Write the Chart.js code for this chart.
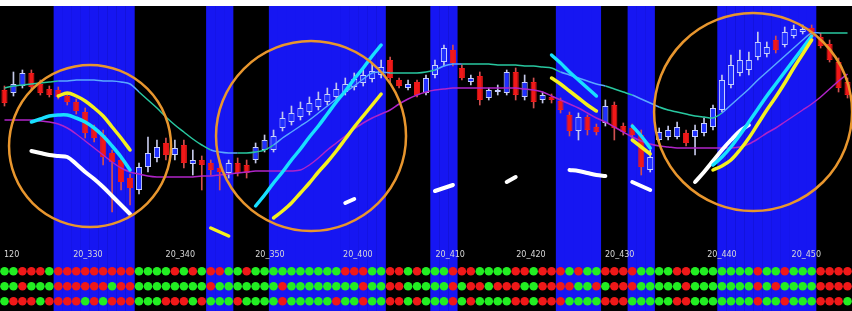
<!DOCTYPE html>
<html>
<head>
<meta charset="utf-8">
<script src="https://cdn.jsdelivr.net/npm/chart.js@4.4.1/dist/chart.umd.min.js"></script>
<style>
  html, body { margin: 0; background: #fff; }
  #wrap { width: 852px; height: 311px; padding-top: 6px; box-sizing: border-box; }
  canvas { display: block; background: #000; }
</style>
</head>
<body>
<div id="wrap"><canvas id="chart" width="852" height="305"></canvas></div>
<script>
// --- Data ---
const N = 95;
const tickPos = [0.8, 9.3, 19.6, 29.6, 39.4, 49.7, 58.7, 68.6, 80.0, 89.4];
const tickText = ["120", "20_330", "20_340", "20_350", "20_400", "20_410", "20_420", "20_430", "20_440", "20_450"];

const openP = [221,218,225,238,227,222,221,215,209,199, 183,176,158,151,133,121,144,153,168,156,
  166,147,151,148,143,138,148,146,151,161, 161,183,189,194,199,204,209,214,219,224,
  228,232,236,251,231,223,229,218,236,249, 261,243,229,235,213,219,218,239,214,229,
  211,214,210,196,180,194,184,188,206,185, 183,176,141,171,174,174,178,174,178,184,
  201,226,238,241,254,257,271,266,275,279, 283,274,267,249,229];
const closeP = [208,227,238,224,218,216,214,209,200,178, 173,154,149,129,123,144,158,164,156,163,
  148,151,146,141,139,148,138,138,164,171, 175,193,198,203,208,212,217,222,227,232,
  236,240,244,233,225,227,216,233,246,263, 248,233,233,211,221,221,239,216,229,209,
  216,211,201,180,194,181,179,205,183,179, 176,144,154,179,181,184,168,181,188,203,
  231,246,251,251,269,264,261,279,282,282, 274,265,251,223,216];
const highP = [225,239,241,241,231,225,224,218,212,203, 186,181,161,155,137,148,174,171,173,171,
  171,161,155,151,151,151,153,151,168,176, 181,199,205,209,214,219,223,228,233,238,
  243,247,251,254,233,231,231,236,251,266, 266,246,236,239,223,226,241,243,236,233,
  219,217,213,199,198,196,187,211,209,188, 187,181,161,183,185,189,181,186,193,206,
  236,256,261,259,279,269,275,284,286,286, 286,278,271,253,233];
const lowP = [205,215,223,221,216,214,212,206,197,173, 169,146,99,121,106,117,139,149,151,151,
  143,136,121,136,121,133,135,133,148,159, 159,180,186,191,196,201,206,211,216,221,
  225,229,233,229,223,221,214,216,233,245, 245,231,226,206,211,216,216,211,211,203,
  208,208,198,175,171,176,176,185,171,176, 173,136,139,168,171,172,165,156,175,181,
  199,223,235,236,251,254,258,264,273,277, 271,263,249,219,213];

const tealMA = [223,225,226,227,228,229,230,230,231,231, 231,230,230,229,227,219,211,203,194,186,
  179,172,166,161,159,158,158,158,159,161, 166,173,179,185,191,198,205,212,219,225,
  232,238,239,238,238,238,238,239,241,245, 247,247,247,247,247,246,246,246,245,245,
  244,243,239,236,233,230,227,225,222,219, 216,212,208,204,201,199,197,195,194,193,
  198,206,214,222,231,239,247,255,263,271, 278,278,278,278,278];
const purpleMA = [191,191,191,191,190,189,187,183,177,170, 163,156,149,143,139,137,135,134,134,134,
  134,134,135,135,136,137,138,139,140,140, 140,140,140,141,146,153,161,168,175,182,
  188,193,197,201,207,212,216,219,221,222, 223,223,223,223,223,223,223,223,222,221,
  219,215,211,207,203,198,193,189,184,179, 174,170,167,165,164,163,163,163,163,163,
  163,163,164,167,172,178,183,189,195,201, 207,214,222,230,237];

// signal lines: [first bar, values]
const yellowSegs = [[6, [215,218,215,210,203,195,184,173,161]], [23, [83,79,75]],
  [30, [93,100,108,118,128,139,149,160,172,184,195,206,217]], [61, [233,227,220,213,206,200]],
  [70, [171,164,157]], [79, [141,145,151,161,173,187,201,214,228,243,257,271]]];
const cyanSegs = [[3, [189,192,195,196,196,193,189,183,175,165,154,141]],
  [28, [105,116,128,139,151,162,174,185,197,209,220,232,243,255,266]], [61, [256,248,239,231,223,215]],
  [70, [185,175,163]], [79, [146,154,164,176,189,202,215,227,239,251,263,275]]];
const whiteSegs = [[3, [160,158,156,155,154,147,139,132,124,115,106,97]], [38, [108,112]],
  [48, [120,123,126]], [56, [129,134]], [63, [141,140,138,136,135]], [70, [129,125,121]],
  [77, [129,139,150,161,171,180,186]]];

const bandRanges = [[6,14],[23,25],[30,42],[48,50],[62,66],[70,72],[80,90]];

const circleX = [9.54, 34.18, 83.47];
const circleY = [165, 175, 199];

const dotRow1 = "GGRRRG" + "RRRRRRRRR" + "GGGG" + "RGRGRRGGR" + "GGGGGGGGGG" + "RRRGGRRGRG" + "GGRRRGGGGR" + "RGRRRGRGGR" + "RRRGGGGRRG" + "GGGGGGRGGR" + "GGGRRRR";
const dotRow2 = "GGRGGG" + "RRRRRRGRR" + "GGGGGGGGRGGGG" + "GGGRGGGGGG" + "GGRGGRRGGG" + "GGRGRRGRRR" + "GGRRRRGGRG" + "RRRGGGGGRG" + "GGGGGGRGRG" + "GGGRRRR";
const dotRow3 = "GRRRGRRRRG" + "RGRRRGGGRR" + "RGRGGGRGGG" + "GRGGGGGRGG" + "RGGRRGRGGG" + "RGRGGGGRRG" + "RRRGGGGRRR" + "GGGGGRRGGG" + "GGGGRGGRGG" + "GRRRG";

// --- Helpers ---
const inBand = new Array(N).fill(false);
bandRanges.forEach(([a, b]) => { for (let i = a; i <= b; i++) inBand[i] = true; });

function segData(segs) {
  const arr = new Array(N).fill(null);
  segs.forEach(([s, vals]) => vals.forEach((v, k) => { arr[s + k] = v; }));
  return arr.map((y, i) => ({ x: i, y }));
}
function lineData(vals) { return vals.map((y, i) => ({ x: i, y })); }
function dotData(row, level) { return row.split("").map((c, i) => ({ x: i, y: level })); }
function dotColors(row) { return row.split("").map(c => c === "G" ? "#22ee22" : "#f01818"); }

const isUp = openP.map((o, i) => closeP[i] > o);

const signalLine = (data, color, width) => ({
  type: "line", data, borderColor: color, borderWidth: width, pointRadius: 0,
  tension: 0.35, borderCapStyle: "round", spanGaps: false, yAxisID: "y", order: 5
});
const dotSet = (row, level) => ({
  type: "scatter", data: dotData(row, level), yAxisID: "y2", pointRadius: 4.3,
  pointBackgroundColor: dotColors(row), pointBorderWidth: 0, order: 9
});

// --- Chart ---
const ctx = document.getElementById("chart").getContext("2d");
new Chart(ctx, {
  type: "bar",
  data: {
    datasets: [
      { type: "bar", data: inBand.map((b, i) => b ? { x: i, y: [0, 305] } : null).filter(Boolean),
        backgroundColor: "#1616f2", barPercentage: 1.04, categoryPercentage: 1, grouped: false,
        yAxisID: "y", order: 10 },
      dotSet(dotRow1, 3), dotSet(dotRow2, 2), dotSet(dotRow3, 1),
      { type: "bar", data: lowP.map((l, i) => ({ x: i, y: [l, highP[i]] })),
        backgroundColor: isUp.map(u => u ? "#c4c8e8" : "#d05050"), barThickness: 1, grouped: false,
        yAxisID: "y", order: 8 },
      { type: "bar", data: openP.map((o, i) => ({ x: i, y: [o, closeP[i]] })),
        backgroundColor: isUp.map(u => u ? "#2030ff" : "#f01818"),
        borderColor: isUp.map(u => u ? "#c8d0ff" : "#f01818"), borderWidth: 1, borderSkipped: false,
        barPercentage: 0.68, categoryPercentage: 1, grouped: false, yAxisID: "y", order: 7 },
      { type: "line", data: lineData(tealMA), borderWidth: 1.5, pointRadius: 0, tension: 0.3,
        borderColor: "#28c8a0", yAxisID: "y", order: 6,
        segment: { borderColor: c => inBand[c.p0DataIndex] ? "#5aa8ff" : "#28c8a0" } },
      { type: "line", data: lineData(purpleMA), borderWidth: 1.5, pointRadius: 0, tension: 0.3,
        borderColor: "#b024c8", yAxisID: "y", order: 6 },
      signalLine(segData(yellowSegs), "#f4f020", 3.5),
      signalLine(segData(cyanSegs), "#18e0ff", 3.5),
      signalLine(segData(whiteSegs), "#ffffff", 4),
      { type: "scatter", data: circleX.map((x, i) => ({ x, y: circleY[i] })), yAxisID: "y",
        pointRadius: [81, 95, 99], pointBackgroundColor: "rgba(0,0,0,0)",
        pointBorderColor: "#e8962e", pointBorderWidth: 2.5, order: 4 }
    ]
  },
  options: {
    responsive: false,
    animation: false,
    events: [],
    layout: { padding: 0, autoPadding: false },
    plugins: { legend: { display: false }, tooltip: { enabled: false } },
    scales: {
      x: {
        type: "linear", min: -0.5, max: N - 0.5, offset: false, position: { y: 61 },
        grid: { display: false, drawTicks: false }, border: { display: false },
        ticks: { z: 1, color: "#d8d8d8", font: { family: "DejaVu Sans", size: 8 }, padding: 0,
          autoSkip: false, maxRotation: 0, callback: (v, i) => tickText[i] },
        afterBuildTicks: s => { s.ticks = tickPos.map(v => ({ value: v })); },
        afterFit: s => { s.height = 0; }
      },
      y: { type: "linear", min: 0, max: 305, display: false },
      y2: { type: "linear", min: 0.35, max: 20.68, display: false }
    }
  }
});
</script>
</body>
</html>
